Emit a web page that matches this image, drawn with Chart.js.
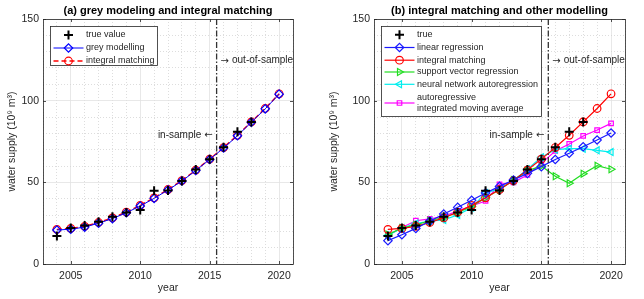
<!DOCTYPE html>
<html>
<head>
<meta charset="utf-8">
<script src="https://cdn.jsdelivr.net/npm/chart.js@4.4.0/dist/chart.umd.min.js"></script>
<style>
  body { margin: 0; background: #fff; }
  .panel { position: absolute; top: 0; width: 322px; height: 299px; }
</style>
</head>
<body>
<div class="panel" style="left:0"><canvas id="chartA" width="322" height="299"></canvas></div>
<div class="panel" style="left:322px"><canvas id="chartB" width="322" height="299"></canvas></div>
<script>
// years 2004..2020, true values only up to 2018
const years = [2004, 2005, 2006, 2007, 2008, 2009, 2010, 2011, 2012, 2013, 2014, 2015, 2016, 2017, 2018, 2019, 2020];
const trueValue = [17.2, 22.0, 23.5, 25.9, 29.0, 31.5, 33.0, 44.8, 45.0, 50.8, 57.8, 64.2, 71.5, 80.9, 87.0];
const greyModel = [20.8, 21.3, 22.6, 25.0, 27.8, 31.4, 35.5, 40.2, 45.3, 50.8, 57.2, 64.0, 71.0, 78.5, 86.8, 95.0, 104.0];
const integralMatching = [21.2, 21.8, 23.0, 25.4, 28.2, 31.8, 35.9, 40.5, 45.6, 51.1, 57.5, 64.2, 71.3, 78.8, 87.0, 95.2, 104.2];
const linearRegression = [14.3, 17.9, 21.8, 26.2, 30.6, 34.7, 39.0, 43.5, 47.5, 51.4, 55.5, 59.6, 64.0, 67.8, 71.8, 75.9, 80.2];
const svr = [18.0, 22.0, 24.0, 26.5, 28.5, 31.5, 35.0, 40.5, 45.5, 51.5, 57.0, 60.0, 53.7, 49.4, 55.3, 60.2, 58.0];
const nnar = [17.5, 22.0, 24.8, 26.3, 27.0, 30.0, 34.5, 43.5, 46.0, 51.0, 58.0, 65.3, 70.0, 70.6, 70.6, 69.6, 68.5];
const arima = [17.5, 22.4, 26.5, 27.6, 29.0, 32.6, 35.5, 38.6, 48.8, 50.0, 54.5, 61.6, 69.2, 73.5, 78.4, 82.0, 86.1];

const xTicks = [2005, 2010, 2015, 2020];
const yTicks = [0, 50, 100, 150];
const splitYear = 2015.5;

const FONT = "'Liberation Sans', Arial, sans-serif";
const INK = '#262626';
Chart.defaults.font.family = FONT;
Chart.defaults.color = INK;

const pts = arr => arr.map((v, i) => ({ x: years[i], y: v }));

function series(label, data, color, style, extra) {
    return Object.assign({
        label: label,
        data: pts(data),
        borderColor: color,
        backgroundColor: 'rgba(0,0,0,0)',
        borderWidth: 1.2,
        pointStyle: style,
        pointRadius: 4,
        pointBorderWidth: 1.2,
        pointBorderColor: color,
        pointBackgroundColor: 'rgba(0,0,0,0)',
        pointRotation: 0,
        tension: 0
    }, extra || {});
}

function trueSeries(label) {
    return series(label, trueValue, '#000000', 'cross', {
        showLine: false, pointRadius: 4.5, pointBorderWidth: 2
    });
}

// frame, ticks, split line, annotations, title and legend
const decor = {
    id: 'decor',
    afterDraw(chart, args, opts) {
        const { ctx, chartArea: a, scales: { x, y } } = chart;
        ctx.save();
        // box
        ctx.strokeStyle = INK;
        ctx.lineWidth = 0.8;
        ctx.strokeRect(Math.round(a.left) + 0.5, Math.round(a.top) + 0.5,
            Math.round(a.right - a.left), Math.round(a.bottom - a.top));
        // inward ticks
        ctx.beginPath();
        xTicks.forEach(v => {
            const px = Math.round(x.getPixelForValue(v)) + 0.5;
            ctx.moveTo(px, a.bottom); ctx.lineTo(px, a.bottom - 3);
            ctx.moveTo(px, a.top); ctx.lineTo(px, a.top + 3);
        });
        yTicks.forEach(v => {
            const py = Math.round(y.getPixelForValue(v)) + 0.5;
            ctx.moveTo(a.left, py); ctx.lineTo(a.left + 3, py);
            ctx.moveTo(a.right, py); ctx.lineTo(a.right - 3, py);
        });
        ctx.stroke();

        // in-sample / out-of-sample split
        const sx = x.getPixelForValue(splitYear);
        ctx.strokeStyle = '#333333';
        ctx.lineWidth = 1.3;
        ctx.setLineDash([6, 2, 1.5, 2]);
        ctx.beginPath();
        ctx.moveTo(sx, a.top); ctx.lineTo(sx, a.bottom);
        ctx.stroke();
        ctx.setLineDash([]);

        ctx.fillStyle = INK;
        ctx.textBaseline = 'middle';
        const arrowFont = "10px 'DejaVu Sans', sans-serif";
        const textFont = '10px ' + FONT;
        const yOut = y.getPixelForValue(124.5);
        const yIn = y.getPixelForValue(79);
        ctx.font = arrowFont;
        const aw = ctx.measureText('\u2192').width;
        ctx.textAlign = 'left';
        ctx.fillText('\u2192', sx + 4, yOut + 0.5);
        ctx.textAlign = 'right';
        ctx.fillText('\u2190', sx - 4, yIn + 0.5);
        ctx.font = textFont;
        ctx.textAlign = 'left';
        ctx.fillText('out-of-sample', sx + 4 + aw + 3, yOut);
        ctx.textAlign = 'right';
        ctx.fillText('in-sample', sx - 4 - aw - 3, yIn);

        // title
        ctx.font = 'bold 11px ' + FONT;
        ctx.textAlign = 'center';
        ctx.fillStyle = '#000';
        ctx.fillText(opts.title, (a.left + a.right) / 2, 11);

        // legend
        const lg = opts.legend;
        ctx.fillStyle = '#fff';
        ctx.fillRect(lg.x, lg.y, lg.w, lg.h);
        ctx.strokeStyle = INK;
        ctx.lineWidth = 0.8;
        ctx.strokeRect(lg.x + 0.5, lg.y + 0.5, lg.w, lg.h);
        ctx.font = '9px ' + FONT;
        ctx.textAlign = 'left';
        lg.rows.forEach(r => {
            const ds = chart.data.datasets[r.ds];
            const lines = ds.label.split('\n');
            const my = r.y + (lines.length - 1) * 5.5;
            if (ds.showLine !== false) {
                ctx.save();
                ctx.strokeStyle = ds.borderColor;
                ctx.lineWidth = ds.borderWidth;
                ctx.setLineDash(ds.borderDash || []);
                ctx.beginPath();
                ctx.moveTo(lg.x + 3.5, my); ctx.lineTo(lg.x + 33.5, my);
                ctx.stroke();
                ctx.restore();
            }
            ctx.save();
            ctx.strokeStyle = ds.pointBorderColor;
            ctx.fillStyle = 'rgba(0,0,0,0)';
            ctx.lineWidth = ds.pointBorderWidth;
            Chart.helpers.drawPoint(ctx, {
                pointStyle: ds.pointStyle, radius: ds.pointRadius,
                rotation: ds.pointRotation, borderWidth: ds.pointBorderWidth
            }, lg.x + 18.5, my);
            ctx.restore();
            ctx.fillStyle = INK;
            lines.forEach((t, i) => ctx.fillText(t, lg.x + 36, r.y + i * 11.5));
        });
        ctx.restore();
    }
};

function makeChart(id, datasets, yWidth, rightPad, decorOpts) {
    const tickFont = { size: 10.5, family: FONT };
    const minor = c => c.tick && c.tick.value % (c.scale.axis === 'x' ? 5 : 50) !== 0;
    return new Chart(document.getElementById(id), {
        type: 'line',
        data: { datasets: datasets },
        options: {
            responsive: false,
            animation: false,
            layout: { padding: { top: 19, right: rightPad, left: 0, bottom: 0 }, autoPadding: false },
            plugins: { legend: { display: false }, tooltip: { enabled: false }, decor: decorOpts },
            scales: {
                x: {
                    type: 'linear', min: 2003, max: 2021,
                    afterFit: s => { s.height = 35; },
                    ticks: {
                        stepSize: 1, autoSkip: false, maxRotation: 0, padding: 6, font: tickFont, color: INK,
                        callback: v => (v % 5 === 0 ? String(v) : '')
                    },
                    grid: {
                        drawTicks: false,
                        color: c => (minor(c) ? '#d4d4d4' : '#e2e2e2'),
                        lineWidth: 0.8
                    },
                    border: { display: false, dash: c => (minor(c) ? [1, 2] : []) },
                    title: { display: true, text: 'year', font: { size: 10.5 }, color: INK, padding: { top: 2, bottom: 5 } }
                },
                y: {
                    min: 0, max: 150,
                    afterFit: s => { s.width = yWidth; },
                    ticks: {
                        stepSize: 10, autoSkip: false, padding: 4, font: tickFont, color: INK,
                        callback: v => (v % 50 === 0 ? String(v) : '')
                    },
                    grid: {
                        drawTicks: false,
                        color: c => (minor(c) ? '#d4d4d4' : '#e2e2e2'),
                        lineWidth: 0.8
                    },
                    border: { display: false, dash: c => (minor(c) ? [1, 2] : []) },
                    title: {
                        display: true, text: 'water supply (10\u2079 m\u00b3)', font: { size: 10.5 }, color: INK,
                        padding: { top: 6, bottom: 2 }
                    }
                }
            }
        },
        plugins: [decor]
    });
}

// (a) grey modelling vs integral matching
makeChart('chartA', [
    trueSeries('true value'),
    series('grey modelling', greyModel, '#0000ff', 'rectRot', { borderWidth: 1, pointRadius: 4.2 }),
    series('integral matching', integralMatching, '#ff0000', 'circle', { borderWidth: 1.5, borderDash: [5, 3], pointRadius: 3.8 })
], 43, 29, {
    title: '(a) grey modeling and integral matching',
    legend: { x: 50, y: 26, w: 107, h: 39, rows: [{ ds: 0, y: 35 }, { ds: 1, y: 48 }, { ds: 2, y: 61 }] }
});

// (b) integral matching vs other models
makeChart('chartB', [
    trueSeries('true'),
    series('linear regression', linearRegression, '#1a1aff', 'rectRot', { pointRadius: 4.2 }),
    series('integral matching', integralMatching, '#ff0000', 'circle', { pointRadius: 3.8 }),
    series('support vector regression', svr, '#22dd22', 'triangle', { pointRotation: 90 }),
    series('neural network autoregression', nnar, '#00eeee', 'triangle', { pointRotation: -90 }),
    series('autoregressive\nintegrated moving average', arima, '#ff00ff', 'rect', { pointRadius: 3.2 })
], 52, 19, {
    title: '(b) integral matching and other modelling',
    legend: {
        x: 59, y: 26, w: 160, h: 90,
        rows: [{ ds: 0, y: 34.7 }, { ds: 1, y: 47.5 }, { ds: 2, y: 60.2 }, { ds: 3, y: 72 }, { ds: 4, y: 84.3 }, { ds: 5, y: 97.5 }]
    }
});
</script>
</body>
</html>
